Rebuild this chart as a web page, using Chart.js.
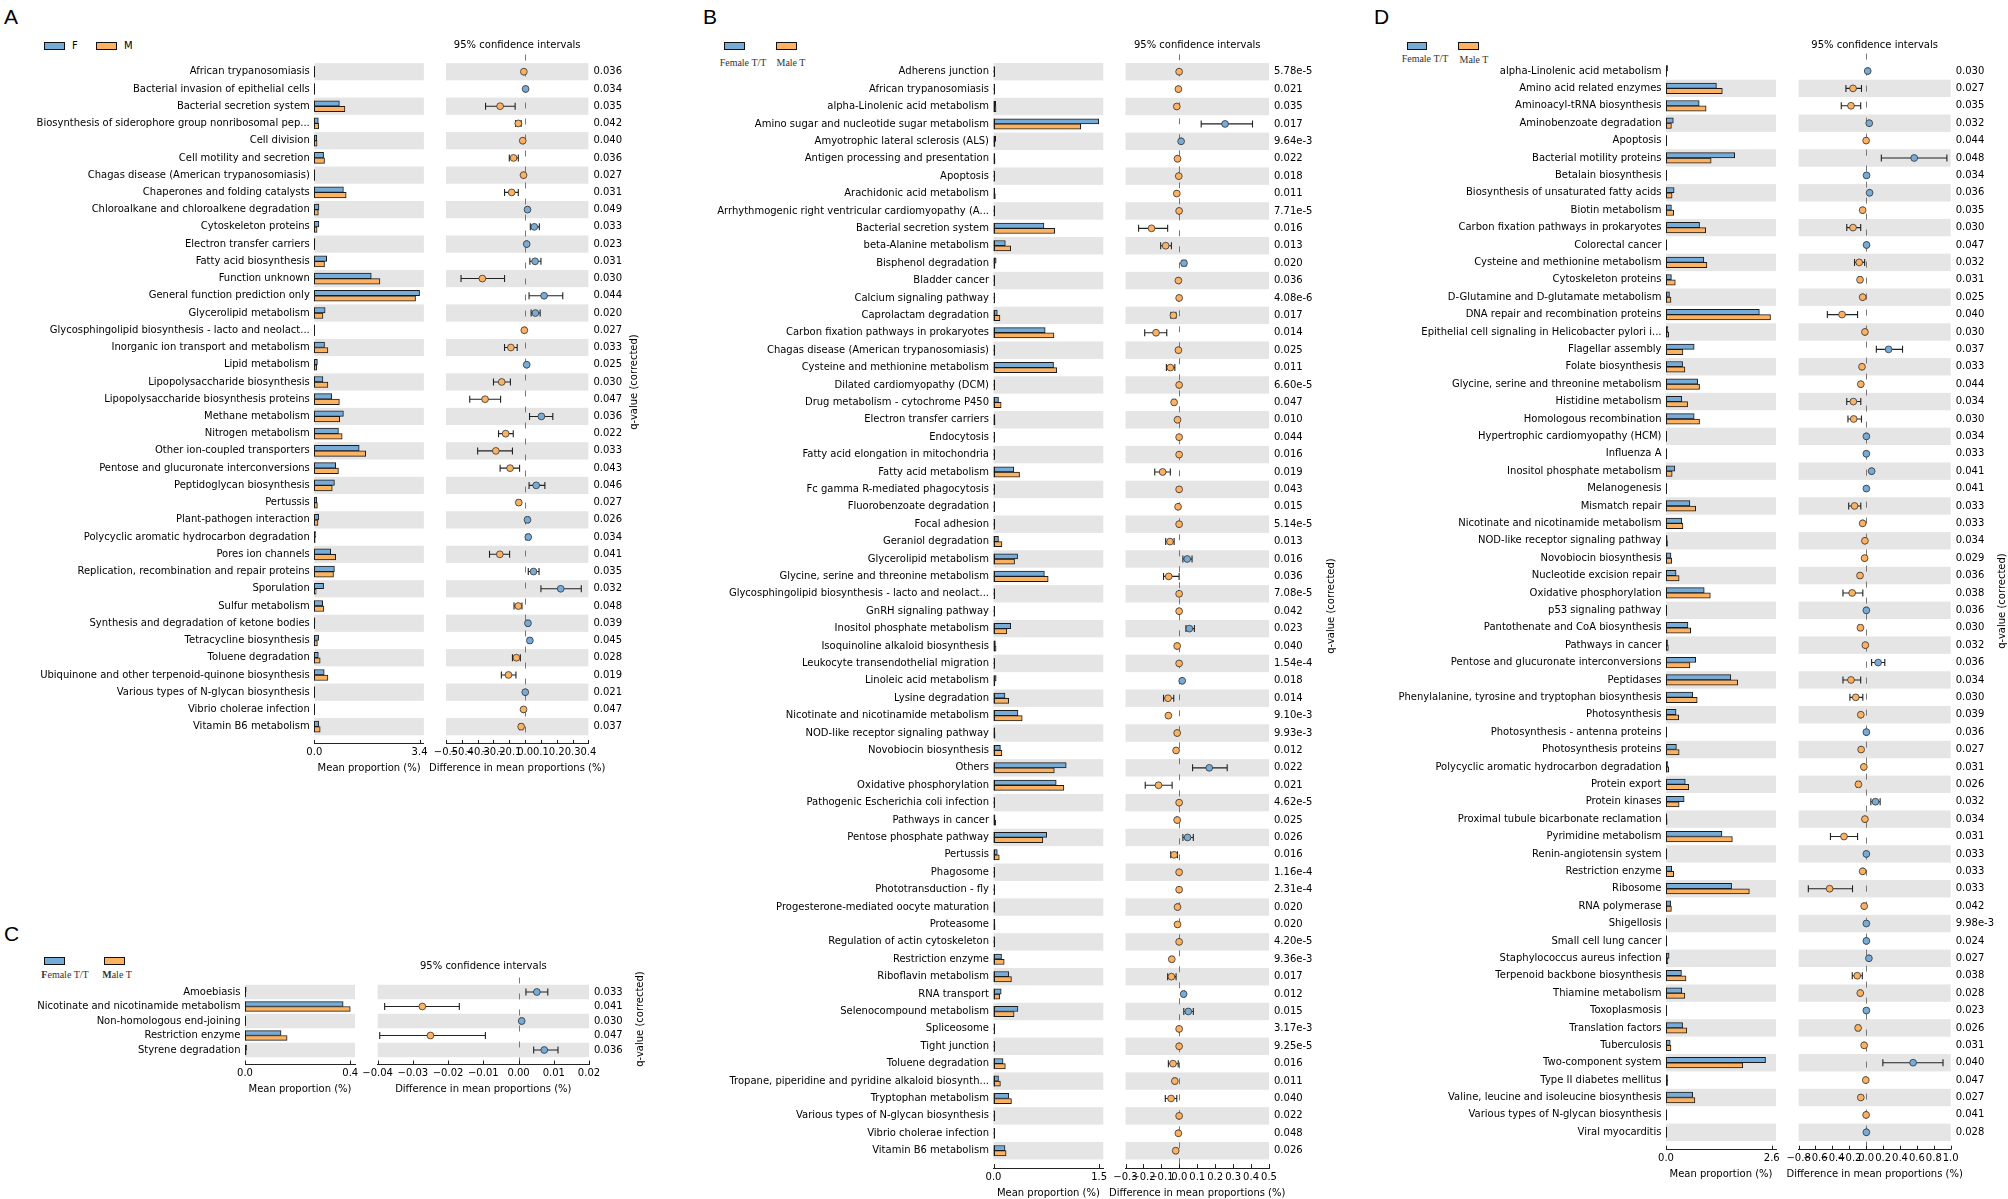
<!DOCTYPE html>
<html><head><meta charset="utf-8">
<script src="https://cdn.jsdelivr.net/npm/chart.js@4.4.0/dist/chart.umd.min.js"></script>
<style>
html,body{margin:0;padding:0;background:#fff;}
body{width:2008px;height:1199px;position:relative;overflow:hidden;font-family:"DejaVu Sans";}
canvas{position:absolute;}
.letter{position:absolute;font-family:"Liberation Sans";font-size:21px;line-height:21px;color:#000;}
.box{position:absolute;box-sizing:border-box;border:1px solid #111;}
.lt{position:absolute;font-size:10px;line-height:12px;white-space:nowrap;color:#000;}
.ls{position:absolute;font-family:"Liberation Serif";font-size:10px;line-height:12px;white-space:nowrap;color:#333;text-align:center;}
</style></head>
<body>
<div class="letter" style="left:4px;top:6px">A</div>
<div class="letter" style="left:703px;top:6px">B</div>
<div class="letter" style="left:4px;top:923px">C</div>
<div class="letter" style="left:1374px;top:6px">D</div>

<div class="box" style="left:44px;top:42px;width:21px;height:8px;background:#77acd8"></div>
<div class="lt" style="left:72px;top:40px">F</div>
<div class="box" style="left:96px;top:42px;width:21px;height:8px;background:#fdb262"></div>
<div class="lt" style="left:124px;top:40px">M</div>

<div class="box" style="left:724px;top:42px;width:21px;height:8px;background:#77acd8"></div>
<div class="box" style="left:776px;top:42px;width:21px;height:8px;background:#fdb262"></div>
<div class="ls" style="left:713px;top:57px;width:60px">Female T/T</div>
<div class="ls" style="left:771px;top:57px;width:40px">Male T</div>

<div class="box" style="left:1407px;top:42px;width:20px;height:8px;background:#77acd8"></div>
<div class="box" style="left:1458px;top:42px;width:21px;height:8px;background:#fdb262"></div>
<div class="ls" style="left:1395px;top:53px;width:60px">Female T/T</div>
<div class="ls" style="left:1454px;top:54px;width:40px">Male T</div>

<div class="box" style="left:44px;top:957px;width:21px;height:8px;background:#77acd8"></div>
<div class="box" style="left:104px;top:957px;width:21px;height:8px;background:#fdb262"></div>
<div class="ls" style="left:35px;top:969px;width:60px"><b>F</b>emale T/T</div>
<div class="ls" style="left:97px;top:969px;width:40px"><b>M</b>ale T</div>

<script>
// ---------------- DATA ----------------
// Panel A (F vs M)
const aNames = ['African trypanosomiasis','Bacterial invasion of epithelial cells','Bacterial secretion system','Biosynthesis of siderophore group nonribosomal pep...','Cell division','Cell motility and secretion','Chagas disease (American trypanosomiasis)','Chaperones and folding catalysts','Chloroalkane and chloroalkene degradation','Cytoskeleton proteins','Electron transfer carriers','Fatty acid biosynthesis','Function unknown','General function prediction only','Glycerolipid metabolism','Glycosphingolipid biosynthesis - lacto and neolact...','Inorganic ion transport and metabolism','Lipid metabolism','Lipopolysaccharide biosynthesis','Lipopolysaccharide biosynthesis proteins','Methane metabolism','Nitrogen metabolism','Other ion-coupled transporters','Pentose and glucuronate interconversions','Peptidoglycan biosynthesis','Pertussis','Plant-pathogen interaction','Polycyclic aromatic hydrocarbon degradation','Pores ion channels','Replication, recombination and repair proteins','Sporulation','Sulfur metabolism','Synthesis and degradation of ketone bodies','Tetracycline biosynthesis','Toluene degradation','Ubiquinone and other terpenoid-quinone biosynthesis','Various types of N-glycan biosynthesis','Vibrio cholerae infection','Vitamin B6 metabolism'];
const aF = [0.005,0.004,0.81,0.13,0.08,0.30,0.005,0.94,0.15,0.15,0.02,0.40,1.84,3.40,0.35,0.004,0.33,0.10,0.28,0.56,0.94,0.78,1.45,0.69,0.65,0.08,0.14,0.05,0.53,0.65,0.30,0.27,0.02,0.14,0.13,0.32,0.004,0.01,0.14];
const aM = [0.006,0.003,0.99,0.14,0.09,0.33,0.006,1.03,0.13,0.09,0.012,0.33,2.12,3.27,0.28,0.005,0.44,0.08,0.44,0.81,0.82,0.90,1.66,0.78,0.58,0.10,0.12,0.03,0.69,0.62,0.06,0.31,0.015,0.10,0.19,0.44,0.003,0.012,0.19];
const aDiff = [-0.008,0.003,-0.158,-0.043,-0.015,-0.073,-0.01,-0.085,0.015,0.058,0.01,0.063,-0.27,0.12,0.065,-0.005,-0.09,0.01,-0.148,-0.253,0.103,-0.123,-0.185,-0.095,0.07,-0.04,0.015,0.02,-0.16,0.053,0.225,-0.043,0.018,0.03,-0.055,-0.105,0.001,-0.01,-0.025];
const aLo = [-0.01,0.001,-0.25,-0.06,-0.02,-0.1,-0.012,-0.13,0.008,0.033,0.006,0.03,-0.405,0.025,0.038,-0.007,-0.13,0.006,-0.2,-0.35,0.028,-0.168,-0.30,-0.158,0.025,-0.05,0.008,0.012,-0.225,0.02,0.1,-0.07,0.01,0.02,-0.08,-0.15,-0.001,-0.013,-0.035];
const aHi = [-0.006,0.005,-0.063,-0.025,-0.01,-0.043,-0.008,-0.043,0.022,0.09,0.014,0.1,-0.13,0.238,0.095,-0.003,-0.05,0.014,-0.093,-0.155,0.175,-0.075,-0.08,-0.035,0.125,-0.03,0.022,0.028,-0.098,0.088,0.355,-0.02,0.026,0.04,-0.03,-0.058,0.003,-0.007,-0.015];
const aQ = ['0.036','0.034','0.035','0.042','0.040','0.036','0.027','0.031','0.049','0.033','0.023','0.031','0.030','0.044','0.020','0.027','0.033','0.025','0.030','0.047','0.036','0.022','0.033','0.043','0.046','0.027','0.026','0.034','0.041','0.035','0.032','0.048','0.039','0.045','0.028','0.019','0.021','0.047','0.037'];
const aBarTicks = [0, 3.4];
const aDiffTicks = [-0.5,-0.4,-0.3,-0.2,-0.1,0,0.1,0.2,0.3,0.4];

// Panel B (Female T/T vs Male T)
const bNames = ['Adherens junction','African trypanosomiasis','alpha-Linolenic acid metabolism','Amino sugar and nucleotide sugar metabolism','Amyotrophic lateral sclerosis (ALS)','Antigen processing and presentation','Apoptosis','Arachidonic acid metabolism','Arrhythmogenic right ventricular cardiomyopathy (A...','Bacterial secretion system','beta-Alanine metabolism','Bisphenol degradation','Bladder cancer','Calcium signaling pathway','Caprolactam degradation','Carbon fixation pathways in prokaryotes','Chagas disease (American trypanosomiasis)','Cysteine and methionine metabolism','Dilated cardiomyopathy (DCM)','Drug metabolism - cytochrome P450','Electron transfer carriers','Endocytosis','Fatty acid elongation in mitochondria','Fatty acid metabolism','Fc gamma R-mediated phagocytosis','Fluorobenzoate degradation','Focal adhesion','Geraniol degradation','Glycerolipid metabolism','Glycine, serine and threonine metabolism','Glycosphingolipid biosynthesis - lacto and neolact...','GnRH signaling pathway','Inositol phosphate metabolism','Isoquinoline alkaloid biosynthesis','Leukocyte transendothelial migration','Linoleic acid metabolism','Lysine degradation','Nicotinate and nicotinamide metabolism','NOD-like receptor signaling pathway','Novobiocin biosynthesis','Others','Oxidative phosphorylation','Pathogenic Escherichia coli infection','Pathways in cancer','Pentose phosphate pathway','Pertussis','Phagosome','Phototransduction - fly','Progesterone-mediated oocyte maturation','Proteasome','Regulation of actin cytoskeleton','Restriction enzyme','Riboflavin metabolism','RNA transport','Selenocompound metabolism','Spliceosome','Tight junction','Toluene degradation','Tropane, piperidine and pyridine alkaloid biosynth...','Tryptophan metabolism','Various types of N-glycan biosynthesis','Vibrio cholerae infection','Vitamin B6 metabolism'];
const bF = [0.003,0.005,0.031,1.495,0.031,0.02,0.003,0.016,0.002,0.717,0.168,0.038,0.01,0.002,0.054,0.734,0.01,0.853,0.002,0.071,0.02,0.002,0.002,0.288,0.002,0.01,0.002,0.071,0.342,0.723,0.002,0.002,0.245,0.027,0.002,0.038,0.163,0.348,0.016,0.098,1.033,0.891,0.002,0.022,0.755,0.054,0.002,0.002,0.016,0.016,0.002,0.114,0.217,0.109,0.348,0.002,0.002,0.136,0.071,0.217,0.002,0.01,0.163];
const bM = [0.004,0.006,0.036,1.239,0.021,0.022,0.004,0.026,0.003,0.87,0.245,0.021,0.012,0.003,0.092,0.859,0.012,0.897,0.003,0.109,0.022,0.003,0.003,0.37,0.003,0.012,0.003,0.12,0.299,0.777,0.003,0.003,0.19,0.037,0.003,0.021,0.217,0.408,0.022,0.12,0.864,1.0,0.003,0.033,0.701,0.082,0.003,0.003,0.02,0.022,0.003,0.152,0.255,0.087,0.293,0.003,0.003,0.168,0.098,0.255,0.003,0.012,0.179];
const bDiff = [-0.001,-0.005,-0.014,0.255,0.01,-0.01,-0.003,-0.014,-0.001,-0.155,-0.076,0.026,-0.005,-0.001,-0.033,-0.13,-0.005,-0.05,-0.001,-0.029,-0.01,-0.001,-0.001,-0.093,-0.001,-0.007,-0.001,-0.052,0.044,-0.059,-0.001,-0.001,0.056,-0.012,-0.001,0.016,-0.063,-0.061,-0.012,-0.018,0.167,-0.116,-0.001,-0.012,0.046,-0.029,-0.001,-0.001,-0.01,-0.01,-0.001,-0.042,-0.044,0.024,0.05,-0.001,-0.001,-0.035,-0.025,-0.046,-0.001,-0.005,-0.02];
const bLo = [-0.003,-0.007,-0.018,0.122,0.006,-0.014,-0.005,-0.018,-0.003,-0.227,-0.104,0.016,-0.007,-0.003,-0.047,-0.193,-0.007,-0.072,-0.003,-0.036,-0.014,-0.003,-0.003,-0.137,-0.003,-0.01,-0.003,-0.076,0.02,-0.088,-0.003,-0.003,0.037,-0.016,-0.003,0.012,-0.088,-0.065,-0.016,-0.023,0.074,-0.19,-0.003,-0.016,0.02,-0.048,-0.003,-0.003,-0.014,-0.014,-0.003,-0.048,-0.065,0.019,0.025,-0.003,-0.003,-0.061,-0.031,-0.078,-0.003,-0.008,-0.026];
const bHi = [0.001,-0.003,-0.01,0.408,0.014,-0.006,-0.001,-0.01,0.001,-0.065,-0.044,0.036,-0.003,0.001,-0.019,-0.07,-0.003,-0.025,0.001,-0.022,-0.006,0.001,0.001,-0.05,0.001,-0.004,0.001,-0.029,0.071,-0.001,0.001,0.001,0.084,-0.008,0.001,0.02,-0.031,-0.057,-0.008,-0.013,0.267,-0.04,0.001,-0.008,0.078,-0.01,0.001,0.001,-0.006,-0.006,0.001,-0.036,-0.018,0.029,0.078,0.001,0.001,-0.006,-0.019,-0.014,0.001,-0.002,-0.014];
const bQ = ['5.78e-5','0.021','0.035','0.017','9.64e-3','0.022','0.018','0.011','7.71e-5','0.016','0.013','0.020','0.036','4.08e-6','0.017','0.014','0.025','0.011','6.60e-5','0.047','0.010','0.044','0.016','0.019','0.043','0.015','5.14e-5','0.013','0.016','0.036','7.08e-5','0.042','0.023','0.040','1.54e-4','0.018','0.014','9.10e-3','9.93e-3','0.012','0.022','0.021','4.62e-5','0.025','0.026','0.016','1.16e-4','2.31e-4','0.020','0.020','4.20e-5','9.36e-3','0.017','0.012','0.015','3.17e-3','9.25e-5','0.016','0.011','0.040','0.022','0.048','0.026'];
const bBarTicks = [0, 1.5];
const bDiffTicks = [-0.3,-0.2,-0.1,0,0.1,0.2,0.3,0.4,0.5];

// Panel C
const cNames = ['Amoebiasis','Nicotinate and nicotinamide metabolism','Non-homologous end-joining','Restriction enzyme','Styrene degradation'];
const cF = [0.0045,0.373,0.001,0.137,0.006];
const cM = [0.003,0.40,0.0003,0.16,0.0045];
const cDiff = [0.0052,-0.0273,0.0009,-0.025,0.0073];
const cLo = [0.0021,-0.038,0.0006,-0.0394,0.0043];
const cHi = [0.0083,-0.0168,0.0012,-0.0094,0.0112];
const cQ = ['0.033','0.041','0.030','0.047','0.036'];
const cBarTicks = [0, 0.4];
const cDiffTicks = [-0.04,-0.03,-0.02,-0.01,0,0.01,0.02];

// Panel D
const dNames = ['alpha-Linolenic acid metabolism','Amino acid related enzymes','Aminoacyl-tRNA biosynthesis','Aminobenzoate degradation','Apoptosis','Bacterial motility proteins','Betalain biosynthesis','Biosynthesis of unsaturated fatty acids','Biotin metabolism','Carbon fixation pathways in prokaryotes','Colorectal cancer','Cysteine and methionine metabolism','Cytoskeleton proteins','D-Glutamine and D-glutamate metabolism','DNA repair and recombination proteins','Epithelial cell signaling in Helicobacter pylori i...','Flagellar assembly','Folate biosynthesis','Glycine, serine and threonine metabolism','Histidine metabolism','Homologous recombination','Hypertrophic cardiomyopathy (HCM)','Influenza A','Inositol phosphate metabolism','Melanogenesis','Mismatch repair','Nicotinate and nicotinamide metabolism','NOD-like receptor signaling pathway','Novobiocin biosynthesis','Nucleotide excision repair','Oxidative phosphorylation','p53 signaling pathway','Pantothenate and CoA biosynthesis','Pathways in cancer','Pentose and glucuronate interconversions','Peptidases','Phenylalanine, tyrosine and tryptophan biosynthesis','Photosynthesis','Photosynthesis - antenna proteins','Photosynthesis proteins','Polycyclic aromatic hydrocarbon degradation','Protein export','Protein kinases','Proximal tubule bicarbonate reclamation','Pyrimidine metabolism','Renin-angiotensin system','Restriction enzyme','Ribosome','RNA polymerase','Shigellosis','Small cell lung cancer','Staphylococcus aureus infection','Terpenoid backbone biosynthesis','Thiamine metabolism','Toxoplasmosis','Translation factors','Tuberculosis','Two-component system','Type II diabetes mellitus','Valine, leucine and isoleucine biosynthesis','Various types of N-glycan biosynthesis','Viral myocarditis'];
const dF = [0.04,1.24,0.816,0.18,0.003,1.69,0.004,0.2,0.133,0.825,0.004,0.93,0.133,0.085,2.296,0.047,0.693,0.408,0.778,0.389,0.693,0.004,0.004,0.218,0.004,0.588,0.389,0.028,0.123,0.247,0.94,0.004,0.54,0.038,0.73,1.594,0.655,0.247,0.004,0.256,0.047,0.474,0.446,0.02,1.376,0.004,0.142,1.613,0.114,0.004,0.004,0.076,0.38,0.389,0.004,0.408,0.104,2.448,0.038,0.655,0.002,0.004];
const dM = [0.02,1.385,0.987,0.133,0.004,1.11,0.002,0.15,0.19,0.977,0.002,1.006,0.228,0.123,2.57,0.066,0.417,0.465,0.825,0.531,0.825,0.002,0.002,0.152,0.002,0.73,0.417,0.038,0.142,0.323,1.09,0.002,0.607,0.057,0.588,1.765,0.768,0.313,0.002,0.323,0.066,0.56,0.323,0.028,1.632,0.002,0.19,2.05,0.133,0.002,0.002,0.047,0.493,0.465,0.002,0.512,0.123,1.888,0.04,0.711,0.003,0.002];
const dDiff = [0.018,-0.156,-0.18,0.036,-0.001,0.568,0.004,0.04,-0.042,-0.156,0.004,-0.083,-0.073,-0.042,-0.286,-0.015,0.265,-0.05,-0.064,-0.152,-0.148,0.002,0.002,0.064,0.002,-0.138,-0.042,-0.015,-0.019,-0.073,-0.166,0.002,-0.068,-0.01,0.141,-0.18,-0.124,-0.064,0.002,-0.06,-0.028,-0.092,0.11,-0.015,-0.263,0.002,-0.042,-0.433,-0.024,0.002,0.002,0.032,-0.106,-0.07,0.002,-0.096,-0.024,0.555,-0.005,-0.064,-0.001,0.002];
const dLo = [0.01,-0.24,-0.295,0.028,-0.009,0.179,-0.004,0.032,-0.05,-0.23,-0.004,-0.138,-0.09,-0.05,-0.46,-0.023,0.12,-0.058,-0.072,-0.23,-0.216,-0.006,-0.006,0.056,-0.006,-0.207,-0.05,-0.023,-0.027,-0.09,-0.275,-0.006,-0.085,-0.018,0.064,-0.275,-0.193,-0.072,-0.006,-0.068,-0.036,-0.11,0.055,-0.023,-0.423,-0.006,-0.05,-0.685,-0.032,-0.006,-0.006,0.024,-0.165,-0.078,-0.006,-0.11,-0.032,0.197,-0.013,-0.072,-0.009,-0.006];
const dHi = [0.026,-0.056,-0.065,0.044,0.007,0.955,0.012,0.048,-0.034,-0.065,0.012,-0.018,-0.056,-0.034,-0.102,-0.007,0.43,-0.042,-0.056,-0.064,-0.056,0.01,0.01,0.072,0.01,-0.064,-0.034,-0.007,-0.011,-0.056,-0.04,0.01,-0.05,-0.002,0.22,-0.065,-0.04,-0.056,0.01,-0.052,-0.02,-0.075,0.165,-0.007,-0.102,0.01,-0.034,-0.162,-0.016,0.01,0.01,0.04,-0.046,-0.062,0.01,-0.08,-0.016,0.909,0.003,-0.056,0.007,0.01];
const dQ = ['0.030','0.027','0.035','0.032','0.044','0.048','0.034','0.036','0.035','0.030','0.047','0.032','0.031','0.025','0.040','0.030','0.037','0.033','0.044','0.034','0.030','0.034','0.033','0.041','0.041','0.033','0.033','0.034','0.029','0.036','0.038','0.036','0.030','0.032','0.036','0.034','0.030','0.039','0.036','0.027','0.031','0.026','0.032','0.034','0.031','0.033','0.033','0.033','0.042','9.98e-3','0.024','0.027','0.038','0.028','0.023','0.026','0.031','0.040','0.047','0.027','0.041','0.028'];
const dBarTicks = [0, 2.6];
const dDiffTicks = [-0.8,-0.6,-0.4,-0.2,0,0.2,0.4,0.6,0.8,1.0];

// ---------------- STYLE ----------------
const BLUE = '#77acd8', ORANGE = '#fdb262', BAND = '#e5e5e5', EDGE = '#1a1a1a';
Chart.defaults.font.family = 'DejaVu Sans';
Chart.defaults.font.size = 10;
Chart.defaults.color = '#000';
Chart.defaults.animation = false;

function addCanvas(left, top, w, h) {
  const c = document.createElement('canvas');
  c.width = w; c.height = h;
  c.style.left = left + 'px'; c.style.top = top + 'px';
  c.style.width = w + 'px'; c.style.height = h + 'px';
  document.body.appendChild(c);
  return c;
}
function fmt(v, dec) {
  const s = Math.abs(v) < 1e-9 ? (0).toFixed(dec) : v.toFixed(dec);
  return s.replace('-', '\u2212');
}
function drawInwardTicks(chart) {
  const xs = chart.scales.x, ctx = chart.ctx, b = chart.chartArea.bottom;
  ctx.save(); ctx.strokeStyle = '#222'; ctx.lineWidth = 1;
  xs.ticks.forEach(t => {
    const x = Math.round(xs.getPixelForValue(t.value)) + 0.5;
    ctx.beginPath(); ctx.moveTo(x, b); ctx.lineTo(x, b - 4); ctx.stroke();
  });
  ctx.restore();
}
function drawAxisTitle(chart, text) {
  const a = chart.chartArea, ctx = chart.ctx;
  ctx.save();
  ctx.font = '10px "DejaVu Sans"'; ctx.fillStyle = '#000';
  ctx.textAlign = 'center'; ctx.textBaseline = 'middle';
  ctx.fillText(text, (a.left + a.right) / 2, a.bottom + 25);
  ctx.restore();
}

function makePanel(p) {
  const n = p.names.length;
  // ---- bar chart (mean proportion) ----
  const bcL = Math.floor(p.labelLeft), bcT = Math.floor(p.T - 12);
  const bcR = Math.ceil(p.barR + 14), bcB = Math.ceil(p.B + 44);
  const LW = p.barL - bcL, padT = p.T - bcT, padR = bcR - p.barR, padB = bcB - p.B - 40;
  const cv1 = addCanvas(bcL, bcT, bcR - bcL, bcB - bcT);
  const labels = [''].concat(p.names, ['']);
  const fData = [null].concat(p.F, [null]);
  const mData = [null].concat(p.M, [null]);
  const barPlugin = {
    id: 'barExtras',
    beforeDatasetsDraw(chart) {
      const ys = chart.scales.y, a = chart.chartArea, ctx = chart.ctx;
      const s = ys.getPixelForValue(2) - ys.getPixelForValue(1);
      ctx.save(); ctx.fillStyle = BAND;
      for (let i = 0; i < n; i++) {
        if ((n - 1 - i) % 2 !== 0) continue;
        const y = ys.getPixelForValue(i + 1);
        ctx.fillRect(a.left, y - s / 2, a.right - a.left, s);
      }
      ctx.restore();
    },
    afterDatasetsDraw(chart) {
      const ys = chart.scales.y, xs = chart.scales.x, ctx = chart.ctx;
      const x0 = Math.round(xs.getPixelForValue(0)) + 0.5;
      ctx.save(); ctx.strokeStyle = EDGE; ctx.lineWidth = 1;
      for (let i = 0; i < n; i++) {
        const y = ys.getPixelForValue(i + 1);
        ctx.beginPath(); ctx.moveTo(x0, y - p.bt); ctx.lineTo(x0, y + p.bt); ctx.stroke();
      }
      ctx.restore();
    },
    afterDraw(chart) { drawInwardTicks(chart); drawAxisTitle(chart, 'Mean proportion (%)'); }
  };
  new Chart(cv1, {
    type: 'bar',
    data: { labels: labels, datasets: [
      { label: p.gF, data: fData, backgroundColor: BLUE, borderColor: EDGE, borderWidth: 1, borderSkipped: false, barThickness: p.bt },
      { label: p.gM, data: mData, backgroundColor: ORANGE, borderColor: EDGE, borderWidth: 1, borderSkipped: false, barThickness: p.bt }
    ]},
    options: {
      indexAxis: 'y', responsive: false, animation: false,
      layout: { padding: { left: 0, right: padR, top: padT, bottom: padB } },
      plugins: { legend: { display: false }, tooltip: { enabled: false }, title: { display: false } },
      scales: {
        x: { type: 'linear', min: 0, max: p.barMax,
             grid: { display: false, drawTicks: false }, border: { display: true, color: '#222', width: 1 },
             afterBuildTicks: ax => { ax.ticks = p.barTicks.map(v => ({ value: v })); },
             ticks: { padding: 3, autoSkip: false, maxRotation: 0, minRotation: 0, callback: v => fmt(v, 1) },
             title: { display: false },
             afterFit: ax => { ax.height = 40; } },
        y: { type: 'category', offset: false,
             grid: { display: false, drawTicks: false }, border: { display: false },
             ticks: { autoSkip: false, padding: 4.5 },
             afterFit: ax => { ax.width = LW; } }
      }
    },
    plugins: [barPlugin]
  });

  // ---- difference chart ----
  const dcL = Math.floor(p.difL - 45), dcR = Math.ceil(p.difR + 80);
  const dcT = Math.floor(p.titleY - 20), dcB = Math.ceil(p.B + 44);
  const dPadL = p.difL - dcL, RW = dcR - p.difR;
  const dPadT = p.titleY - 6 - dcT, tPadB = p.T - p.titleY - 6, dPadB = dcB - p.B - 40;
  const cv2 = addCanvas(dcL, dcT, dcR - dcL, dcB - dcT);
  const difPlugin = {
    id: 'difExtras',
    beforeDatasetsDraw(chart) {
      const ys = chart.scales.y, xs = chart.scales.x, a = chart.chartArea, ctx = chart.ctx;
      const s = Math.abs(ys.getPixelForValue(1) - ys.getPixelForValue(0));
      ctx.save();
      ctx.fillStyle = BAND;
      for (let i = 0; i < n; i++) {
        if ((n - 1 - i) % 2 !== 0) continue;
        const y = ys.getPixelForValue(i);
        ctx.fillRect(a.left, y - s / 2, a.right - a.left, s);
      }
      // zero line
      const x0 = Math.round(xs.getPixelForValue(0)) + 0.5;
      ctx.strokeStyle = '#777'; ctx.lineWidth = 1; ctx.setLineDash([6, 10]);
      ctx.beginPath(); ctx.moveTo(x0, a.top); ctx.lineTo(x0, a.bottom); ctx.stroke();
      ctx.setLineDash([]);
      // error bars
      ctx.strokeStyle = '#222'; ctx.lineWidth = 1.1;
      for (let i = 0; i < n; i++) {
        const y = ys.getPixelForValue(i);
        const xl = xs.getPixelForValue(p.lo[i]), xh = xs.getPixelForValue(p.hi[i]);
        ctx.beginPath();
        ctx.moveTo(xl, y); ctx.lineTo(xh, y);
        ctx.moveTo(xl, y - 3.5); ctx.lineTo(xl, y + 3.5);
        ctx.moveTo(xh, y - 3.5); ctx.lineTo(xh, y + 3.5);
        ctx.stroke();
      }
      ctx.restore();
    },
    afterDraw(chart) {
      drawInwardTicks(chart);
      drawAxisTitle(chart, 'Difference in mean proportions (%)');
      const ctx = chart.ctx;
      ctx.save();
      ctx.translate(p.qTitleX - chart.canvas.offsetLeft, p.qTitleY - chart.canvas.offsetTop);
      ctx.rotate(-Math.PI / 2);
      ctx.font = '10px "DejaVu Sans"'; ctx.fillStyle = '#000';
      ctx.textAlign = 'center'; ctx.textBaseline = 'middle';
      ctx.fillText('q-value (corrected)', 0, 0);
      ctx.restore();
    }
  };
  new Chart(cv2, {
    type: 'scatter',
    data: { datasets: [{
      data: p.diff.map((d, i) => ({ x: d, y: i })),
      pointRadius: 3.4, pointHoverRadius: 3.4,
      pointBackgroundColor: p.diff.map(d => d > 0 ? BLUE : ORANGE),
      pointBorderColor: '#333', pointBorderWidth: 0.8
    }]},
    options: {
      responsive: false, animation: false,
      layout: { padding: { left: dPadL, right: 0, top: dPadT, bottom: dPadB } },
      plugins: { legend: { display: false }, tooltip: { enabled: false },
        title: { display: true, text: '95% confidence intervals', fullSize: false,
                 padding: { top: 0, bottom: tPadB }, font: { size: 10, weight: 'normal' }, color: '#000' } },
      scales: {
        x: { type: 'linear', min: p.difMin, max: p.difMax,
             grid: { display: false, drawTicks: false }, border: { display: true, color: '#222', width: 1 },
             afterBuildTicks: ax => { ax.ticks = p.difTicks.map(v => ({ value: v })); },
             ticks: { padding: 3, autoSkip: false, maxRotation: 0, minRotation: 0, callback: v => fmt(v, p.dec) },
             title: { display: false },
             afterFit: ax => { ax.height = 40; } },
        y: { type: 'linear', position: 'right', min: -1, max: n, reverse: true,
             grid: { display: false, drawTicks: false }, border: { display: false },
             afterBuildTicks: ax => { ax.ticks = p.q.map((_, i) => ({ value: i })); },
             ticks: { autoSkip: false, padding: 5, callback: v => (p.q[v] !== undefined ? p.q[v] : '') },
             afterFit: ax => { ax.width = RW; } }
      }
    },
    plugins: [difPlugin]
  });
}

makePanel({ names: aNames, F: aF, M: aM, diff: aDiff, lo: aLo, hi: aHi, q: aQ, gF: 'F', gM: 'M',
  labelLeft: 0, barL: 314.3, barR: 423.9, barMax: 3.54, barTicks: aBarTicks,
  difL: 446, difR: 588.4, difMin: -0.5, difMax: 0.4, difTicks: aDiffTicks, dec: 1,
  T: 54.5, B: 743.9, titleY: 45.7, qTitleX: 634, qTitleY: 382, bt: 5.5 });
makePanel({ names: bNames, F: bF, M: bM, diff: bDiff, lo: bLo, hi: bHi, q: bQ, gF: 'Female T/T', gM: 'Male T',
  labelLeft: 700, barL: 993.5, barR: 1103.3, barMax: 1.56, barTicks: bBarTicks,
  difL: 1125.5, difR: 1269, difMin: -0.3, difMax: 0.5, difTicks: bDiffTicks, dec: 1,
  T: 54.3, B: 1168.1, titleY: 45.7, qTitleX: 1331, qTitleY: 606, bt: 5.2 });
makePanel({ names: cNames, F: cF, M: cM, diff: cDiff, lo: cLo, hi: cHi, q: cQ, gF: 'Female T/T', gM: 'Male T',
  labelLeft: 0, barL: 245, barR: 355, barMax: 0.418, barTicks: cBarTicks,
  difL: 377.6, difR: 589, difMin: -0.04, difMax: 0.02, difTicks: cDiffTicks, dec: 2,
  T: 977.5, B: 1064.5, titleY: 966.7, qTitleX: 640, qTitleY: 1019, bt: 4.8 });
makePanel({ names: dNames, F: dF, M: dM, diff: dDiff, lo: dLo, hi: dHi, q: dQ, gF: 'Female T/T', gM: 'Male T',
  labelLeft: 1395, barL: 1666, barR: 1776, barMax: 2.705, barTicks: dBarTicks,
  difL: 1798.6, difR: 1950.7, difMin: -0.8, difMax: 1.0, difTicks: dDiffTicks, dec: 1,
  T: 53.6, B: 1149.7, titleY: 45, qTitleX: 2002, qTitleY: 601, bt: 5.3 });
</script>
</body></html>
